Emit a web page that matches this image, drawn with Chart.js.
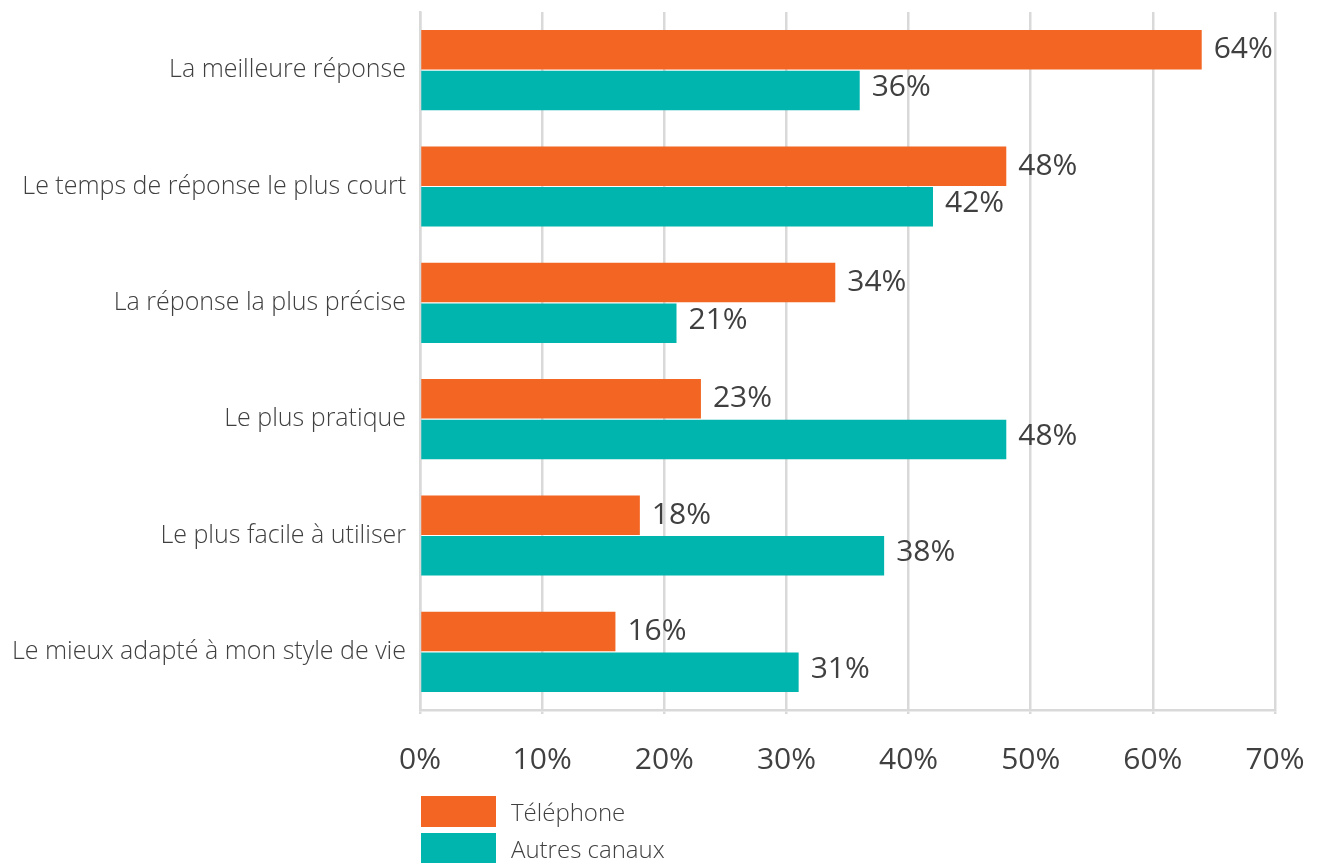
<!DOCTYPE html>
<html>
<head>
  <title>Préférence des canaux</title>
  <script src="https://cdn.jsdelivr.net/npm/chart.js"></script>
  <style>
    html, body { margin: 0; padding: 0; background: #fff; }
    #wrap { position: relative; width: 1320px; height: 863px; overflow: hidden; }
    .legend { position: absolute; left: 421px; top: 796px; font-family: "Open Sans", sans-serif; font-weight: 300; font-size: 24px; color: #404040; }
    .legend div { display: flex; align-items: center; height: 31px; margin-bottom: 6px; }
    .legend span.box { display: inline-block; width: 75px; height: 31px; margin-right: 15px; }
  </style>
</head>
<body>
<div id="wrap">
  <canvas id="chart" width="1320" height="863"></canvas>
  <div class="legend">
    <div><span class="box" style="background:#F26522"></span>Téléphone</div>
    <div><span class="box" style="background:#00B5AD"></span>Autres canaux</div>
  </div>
</div>

<script>
  const categories = [
    'La meilleure réponse',
    'Le temps de réponse le plus court',
    'La réponse la plus précise',
    'Le plus pratique',
    'Le plus facile à utiliser',
    'Le mieux adapté à mon style de vie'
  ];
  const telephone = [64, 48, 34, 23, 18, 16];
  const autresCanaux = [36, 42, 21, 48, 38, 31];
  const tickValues = [0, 10, 20, 30, 40, 50, 60, 70];

  // labels at bar ends
  const valueLabels = {
    id: 'valueLabels',
    afterDatasetsDraw(chart) {
      const ctx = chart.ctx;
      ctx.save();
      ctx.font = '30px "Open Sans", sans-serif';
      ctx.fillStyle = '#404040';
      ctx.textAlign = 'left';
      ctx.textBaseline = 'middle';
      chart.data.datasets.forEach((ds, i) => {
        chart.getDatasetMeta(i).data.forEach((bar, j) => {
          ctx.fillText(ds.data[j] + '%', bar.x + 12, bar.y + (i === 0 ? 0 : -3));
        });
      });
      ctx.restore();
    }
  };

  new Chart(document.getElementById('chart'), {
    type: 'bar',
    data: {
      labels: categories,
      datasets: [
        { label: 'Téléphone', data: telephone, backgroundColor: '#F26522' },
        { label: 'Autres canaux', data: autresCanaux, backgroundColor: '#00B5AD' }
      ]
    },
    options: {
      indexAxis: 'y',
      responsive: false,
      animation: false,
      categoryPercentage: 0.7,
      barPercentage: 0.97,
      layout: { padding: { top: 12, right: 45, left: 0, bottom: 0 } },
      plugins: { legend: { display: false }, tooltip: { enabled: false } },
      scales: {
        x: {
          min: 0,
          max: 70,
          afterBuildTicks(scale) { scale.ticks = tickValues.map(v => ({ value: v })); },
          afterFit(scale) {
            scale.height = 153;
            scale.paddingLeft = 0;
            scale.paddingRight = 0;
          },
          grid: { color: '#d9d9d9', lineWidth: 2.5, tickLength: 4 },
          border: { color: '#d9d9d9', width: 2.5 },
          ticks: {
            color: '#404040',
            font: { family: 'Open Sans', size: 30 },
            padding: 28,
            callback: v => v + '%'
          }
        },
        y: {
          afterFit(scale) {
            scale.width = 420;
            scale.paddingTop = 0;
            scale.paddingBottom = 0;
          },
          grid: { display: false },
          border: { color: '#d9d9d9', width: 2.5 },
          ticks: {
            color: '#404040',
            font: { family: 'Open Sans', size: 25, weight: 300 },
            padding: 6
          }
        }
      }
    },
    plugins: [valueLabels]
  });
</script>
</body>
</html>
